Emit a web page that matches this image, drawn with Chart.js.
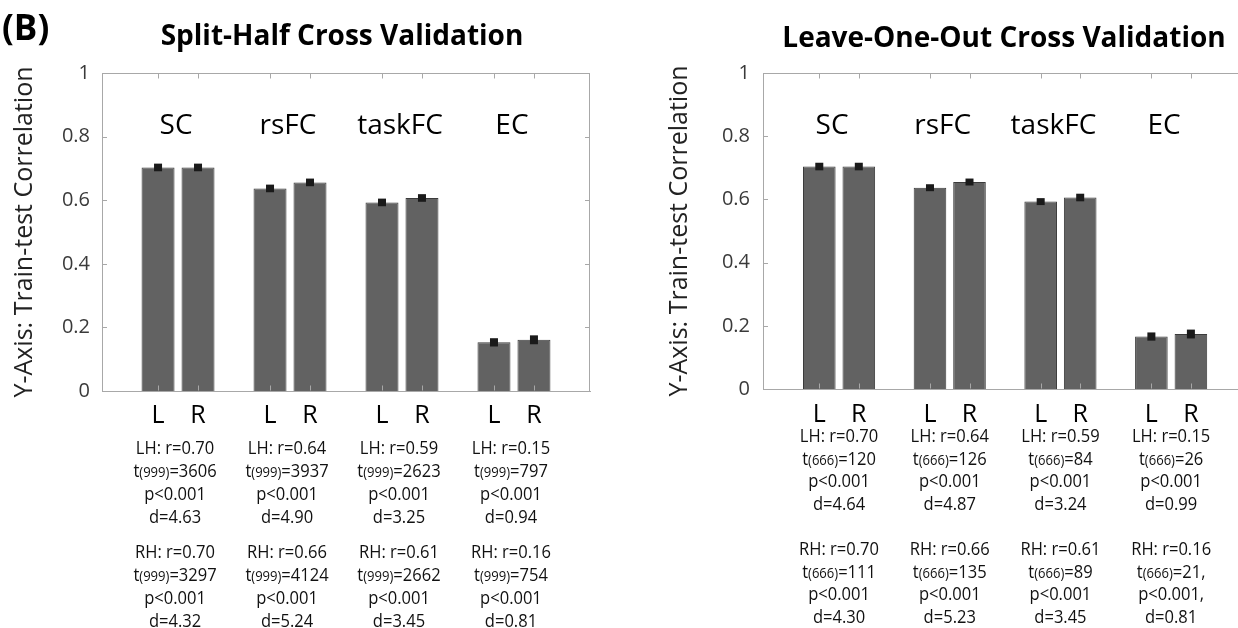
<!DOCTYPE html>
<html>
<head>
<meta charset="utf-8">
<script src="https://cdn.jsdelivr.net/npm/chart.js@4.4.1/dist/chart.umd.min.js"></script>
<style>
  html, body { margin: 0; padding: 0; background: #fff; }
  #wrap { position: relative; width: 1238px; height: 628px; overflow: hidden; }
  canvas { position: absolute; top: 0; }
  #left { left: 0; }
  #right { left: 650px; }
</style>
</head>
<body>
<div id="wrap">
  <canvas id="left" width="650" height="628"></canvas>
  <canvas id="right" width="588" height="628"></canvas>
</div>
<script>
// categories / ticks
const groups = ['SC', 'rsFC', 'taskFC', 'EC'];
const sides = ['L', 'R'];
const yTicks = [0, 0.2, 0.4, 0.6, 0.8, 1];

// bar heights (train-test correlation) and error half-widths
const splitL = [0.703, 0.637, 0.593, 0.153];
const splitR = [0.703, 0.656, 0.607, 0.161];
const splitErrL = [0.012, 0.012, 0.012, 0.013];
const splitErrR = [0.012, 0.012, 0.012, 0.014];
const looL = [0.704, 0.637, 0.593, 0.166];
const looR = [0.704, 0.655, 0.606, 0.174];
const looErrL = [0.012, 0.011, 0.011, 0.013];
const looErrR = [0.012, 0.011, 0.012, 0.014];

// stats printed under each group
const splitDf = 999;
const splitLhR = [0.70, 0.64, 0.59, 0.15];
const splitLhT = ['3606', '3937', '2623', '797'];
const splitLhP = ['p<0.001', 'p<0.001', 'p<0.001', 'p<0.001'];
const splitLhD = ['4.63', '4.90', '3.25', '0.94'];
const splitRhR = [0.70, 0.66, 0.61, 0.16];
const splitRhT = ['3297', '4124', '2662', '754'];
const splitRhP = ['p<0.001', 'p<0.001', 'p<0.001', 'p<0.001'];
const splitRhD = ['4.32', '5.24', '3.45', '0.81'];

const looDf = 666;
const looLhR = [0.70, 0.64, 0.59, 0.15];
const looLhT = ['120', '126', '84', '26'];
const looLhP = ['p<0.001', 'p<0.001', 'p<0.001', 'p<0.001'];
const looLhD = ['4.64', '4.87', '3.24', '0.99'];
const looRhR = [0.70, 0.66, 0.61, 0.16];
const looRhT = ['111', '135', '89', '21,'];
const looRhP = ['p<0.001', 'p<0.001', 'p<0.001', 'p<0.001,'];
const looRhD = ['4.30', '5.23', '3.45', '0.81'];

const FONT = '"Open Sans", sans-serif';
const NOTE = 19, NOTE_SMALL = 15, NOTE_SQUEEZE = 0.87;

function block(tag, df, r, t, p, d) {
  return groups.map((g, i) => [
    [{ text: `${tag}: r=${r[i].toFixed(2)}`, size: NOTE }],
    [{ text: 't', size: NOTE }, { text: `(${df})`, size: NOTE_SMALL }, { text: `=${t[i]}`, size: NOTE }],
    [{ text: p[i], size: NOTE }],
    [{ text: `d=${d[i]}`, size: NOTE }]
  ]);
}

// one line of stats, centred, slightly condensed like the original typeface
function drawParts(ctx, parts, cx, cy, color) {
  let w = 0;
  parts.forEach(p => { ctx.font = `${p.size}px ${FONT}`; w += ctx.measureText(p.text).width; });
  ctx.save();
  ctx.translate(cx, cy + 0.36 * NOTE);
  ctx.scale(NOTE_SQUEEZE, 1);
  let x = -w / 2;
  ctx.textAlign = 'left';
  ctx.textBaseline = 'alphabetic';
  ctx.fillStyle = color;
  parts.forEach(p => {
    ctx.font = `${p.size}px ${FONT}`;
    ctx.fillText(p.text, x, 0);
    x += ctx.measureText(p.text).width;
  });
  ctx.restore();
}

const panelDecor = {
  id: 'panelDecor',
  afterDatasetsDraw(chart, args, o) {
    const ctx = chart.ctx;
    const a = chart.chartArea;
    const ys = chart.scales.y;
    const metas = [chart.getDatasetMeta(0), chart.getDatasetMeta(1)];
    ctx.save();

    // error markers on bar tops
    metas.forEach((meta, di) => {
      const vals = chart.data.datasets[di].data;
      meta.data.forEach((bar, i) => {
        const y1 = ys.getPixelForValue(vals[i].y + o.errs[di][i]);
        const y2 = ys.getPixelForValue(vals[i].y - o.errs[di][i]);
        ctx.fillStyle = '#1a1a1a';
        ctx.fillRect(bar.x - 4, y1, 8, y2 - y1);
      });
    });

    // box edges and inward tick marks
    ctx.strokeStyle = '#a8a8a8';
    ctx.lineWidth = 1;
    const top = Math.round(a.top) + 0.5, bot = Math.round(a.bottom) - 0.5;
    ctx.beginPath();
    ctx.moveTo(a.left, top); ctx.lineTo(a.right, top);
    if (o.rightEdge) { ctx.moveTo(Math.round(a.right) - 0.5, a.top); ctx.lineTo(Math.round(a.right) - 0.5, a.bottom); }
    metas.forEach(meta => meta.data.forEach(bar => {
      const bx = Math.round(bar.x) + 0.5;
      ctx.moveTo(bx, top); ctx.lineTo(bx, top + 5);
      ctx.moveTo(bx, bot); ctx.lineTo(bx, bot - 5);
    }));
    yTicks.forEach(v => {
      const py = Math.round(ys.getPixelForValue(v)) + 0.5;
      ctx.moveTo(a.left, py); ctx.lineTo(a.left + 5, py);
      if (o.rightEdge) { ctx.moveTo(a.right, py); ctx.lineTo(a.right - 5, py); }
    });
    ctx.stroke();

    // group names inside the plot
    ctx.fillStyle = '#000';
    ctx.textAlign = 'center';
    ctx.textBaseline = 'alphabetic';
    ctx.font = `28px ${FONT}`;
    groups.forEach((g, i) => {
      const cx = (metas[0].data[i].x + metas[1].data[i].x) / 2;
      ctx.fillText(g, cx + o.nameShift, ys.getPixelForValue(o.nameValue) + 0.36 * 28);
    });

    // L / R under each bar
    ctx.font = `25px ${FONT}`;
    metas.forEach((meta, di) => meta.data.forEach(bar => {
      ctx.fillText(sides[di], bar.x, a.bottom + o.sideGap + 0.36 * 25);
    }));

    // stats text under each group
    o.notes.forEach((blk, bi) => {
      blk.forEach((lines, i) => {
        const cx = (metas[0].data[i].x + metas[1].data[i].x) / 2 + o.noteShift;
        lines.forEach((parts, li) => {
          drawParts(ctx, parts, cx, a.bottom + o.noteY[bi] + li * o.lineH, '#111');
        });
      });
    });

    // panel title
    ctx.fillStyle = '#000';
    ctx.textAlign = 'center';
    ctx.font = `bold 28px ${FONT}`;
    ctx.fillText(o.title, o.titleX, o.titleY);
    if (o.tag) {
      ctx.textAlign = 'left';
      ctx.font = `bold 35px ${FONT}`;
      ctx.fillText(o.tag, 2, 40);
    }
    ctx.restore();
  }
};

function barSet(label, vals) {
  return {
    label,
    data: vals.map((v, i) => ({ x: i, y: v })),
    backgroundColor: '#626262',
    borderColor: '#3b3b3b',
    borderWidth: 1,
    categoryPercentage: 0.714,
    barPercentage: 0.825
  };
}

function makePanel(id, L, R, p) {
  return new Chart(document.getElementById(id), {
    type: 'bar',
    data: { datasets: [barSet('L', L), barSet('R', R)] },
    options: {
      responsive: false,
      animation: false,
      layout: { padding: p.padding },
      plugins: {
        legend: { display: false },
        tooltip: { enabled: false },
        panelDecor: p.decor
      },
      scales: {
        x: {
          type: 'linear',
          offset: false,
          min: p.xMin,
          max: p.xMax,
          grid: { display: false, drawTicks: false },
          border: { display: true, color: '#a8a8a8', width: 1 },
          ticks: { display: false },
          afterBuildTicks: s => { s.ticks = groups.map((g, i) => ({ value: i })); },
          afterFit: s => { s.height = 0; }
        },
        y: {
          min: 0,
          max: 1,
          grid: { display: false, drawTicks: false },
          border: { display: true, color: '#a8a8a8', width: 1 },
          afterBuildTicks: s => { s.ticks = yTicks.map(v => ({ value: v })); },
          afterFit: s => { s.width = p.yWidth; },
          ticks: {
            padding: p.tickPad,
            color: '#3a3a3a',
            font: { family: FONT, size: 20 },
            callback: v => `${v}`
          },
          title: {
            display: true,
            text: 'Y-Axis: Train-test Correlation',
            color: '#222',
            font: { family: FONT, size: 25 },
            padding: { top: 10, bottom: 0 }
          }
        }
      }
    },
    plugins: [panelDecor]
  });
}

makePanel('left', splitL, splitR, {
  padding: { left: 0, top: 73, right: 60, bottom: 237 },
  yWidth: 102, tickPad: 12, xMin: -0.679, xMax: 3.679,
  decor: {
    errs: [splitErrL, splitErrR],
    rightEdge: true,
    nameValue: 0.84,
    nameShift: -2,
    sideGap: 23,
    noteShift: -3,
    noteY: [56, 160],
    lineH: 23,
    notes: [
      block('LH', splitDf, splitLhR, splitLhT, splitLhP, splitLhD),
      block('RH', splitDf, splitRhR, splitRhT, splitRhP, splitRhD)
    ],
    title: 'Split-Half Cross Validation',
    titleX: 342, titleY: 45,
    tag: '(B)'
  }
});

makePanel('right', looL, looR, {
  padding: { left: 5, top: 73, right: 0, bottom: 239 },
  yWidth: 108, tickPad: 13, xMin: -0.687, xMax: 3.604,
  decor: {
    errs: [looErrL, looErrR],
    rightEdge: false,
    nameValue: 0.84,
    nameShift: -7,
    sideGap: 24,
    noteShift: 0,
    noteY: [46, 159],
    lineH: 22.7,
    notes: [
      block('LH', looDf, looLhR, looLhT, looLhP, looLhD),
      block('RH', looDf, looRhR, looRhT, looRhP, looRhD)
    ],
    title: 'Leave-One-Out Cross Validation',
    titleX: 354, titleY: 47,
    tag: null
  }
});
</script>
</body>
</html>
